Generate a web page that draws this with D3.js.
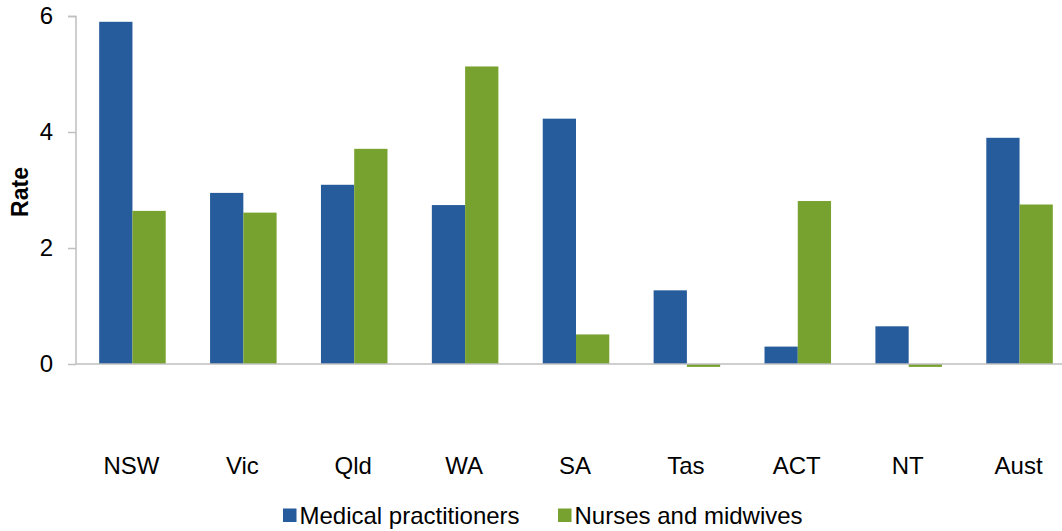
<!DOCTYPE html>
<html><head><meta charset="utf-8">
<script src="https://cdn.jsdelivr.net/npm/d3@7"></script>
<style>html,body{margin:0;padding:0;background:#fff;overflow:hidden}</style>
</head><body><svg id="c" width="1062" height="531"></svg>
<script>
const categories = ["NSW","Vic","Qld","WA","SA","Tas","ACT","NT","Aust"];
const seriesNames = ["Medical practitioners","Nurses and midwives"];
const medical = [5.90, 2.95, 3.09, 2.74, 4.23, 1.27, 0.30, 0.65, 3.90];
const nurses  = [2.64, 2.61, 3.71, 5.13, 0.51, -0.05, 2.81, -0.05, 2.75];
const yTicks = [0, 2, 4, 6];
const colors = ["#265B9C", "#78A22F"];

const svg = d3.select("#c");
const font = "'Liberation Sans', Arial, sans-serif";
const x = d3.scaleBand().domain(categories).range([77, 1075]).paddingInner(0.4).paddingOuter(0.2);
const xs = d3.scaleBand().domain(seriesNames).range([0, x.bandwidth()]);
const y = d3.scaleLinear().domain([0, 6]).range([364, 16]);

// y axis
const ya = svg.append("g").attr("transform","translate(76,0)")
  .call(d3.axisLeft(y).tickValues(yTicks).tickSize(8).tickPadding(15).tickFormat(d3.format("d")));
ya.select(".domain").attr("stroke","#bfbfbf").attr("stroke-width",1.5).attr("d","M-8,16.5H0V364");
ya.selectAll(".tick line").attr("stroke","#bfbfbf").attr("stroke-width",1.5);
ya.selectAll(".tick text").attr("font-family",font).attr("font-size",24).attr("fill","#000");

// bars
const data = categories.map((c,i)=>({c, vals:[medical[i], nurses[i]]}));
const g = svg.append("g");
data.forEach(d=>{
  d.vals.forEach((v,j)=>{
    g.append("rect")
      .attr("x", x(d.c) + xs(seriesNames[j]))
      .attr("width", xs.bandwidth())
      .attr("y", y(Math.max(0,v)))
      .attr("height", Math.abs(y(v)-y(0)))
      .attr("fill", colors[j]);
  });
});

// x axis line
svg.append("line").attr("x1",76).attr("x2",1062).attr("y1",y(0)).attr("y2",y(0))
  .attr("stroke","#bfbfbf").attr("stroke-width",1.5);

// x labels
svg.append("g").selectAll("text").data(categories).join("text")
  .attr("x", d=>x(d)+x.bandwidth()/2 - 1).attr("y", 474)
  .attr("text-anchor","middle").attr("font-family",font).attr("font-size",24).text(d=>d);

// y label
svg.append("text").attr("transform","translate(28,192) rotate(-90)")
  .attr("text-anchor","middle").attr("font-family",font).attr("font-size",23).attr("font-weight","bold").text("Rate");

// legend
const legX = [283, 558];
const leg = svg.append("g");
seriesNames.forEach((s,i)=>{
  leg.append("rect").attr("x",legX[i]).attr("y",508.5).attr("width",13.5).attr("height",13.5).attr("fill",colors[i]);
  leg.append("text").attr("x",legX[i]+16.5).attr("y",523.5).attr("font-family",font).attr("font-size",24).text(s);
});
</script></body></html>
